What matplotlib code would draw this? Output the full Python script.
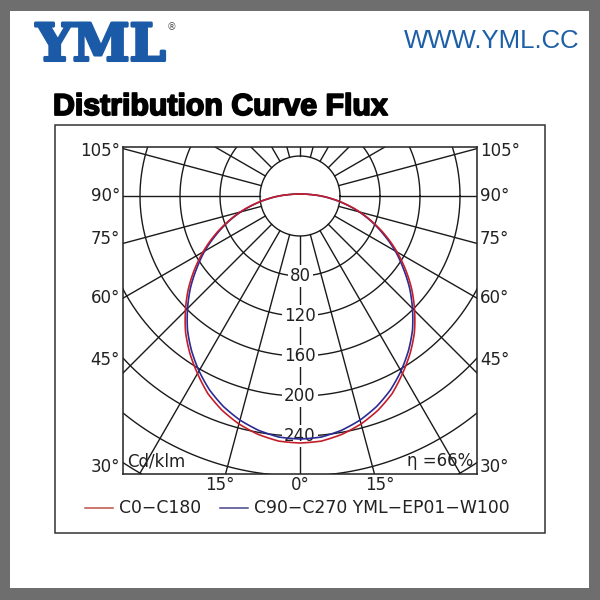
import numpy as np
import matplotlib
matplotlib.use("Agg")
import matplotlib.pyplot as plt
from matplotlib.patches import Rectangle
from matplotlib.lines import Line2D
import matplotlib.patheffects as pe

# ---------------- data (cd/klm) ----------------
angles = list(range(0, 181, 5))  # gamma angle, degrees from nadir
c0_c180 = [247, 246, 242, 236, 228, 218, 205, 192, 178, 162, 146, 129, 112, 95, 78,
           62, 46, 32, 21, 13, 9, 7, 5.5, 4.5, 4, 3.4, 3.1, 2.8, 2.6, 2.4, 2.3, 2.2,
           2.1, 2, 2, 2, 2]
c90_c270 = [243, 242, 238, 232, 224, 214, 202, 189, 175, 159, 143, 126, 110, 93, 77,
            61, 45.5, 31.5, 20.5, 13, 9, 7, 5.5, 4.5, 4, 3.4, 3.1, 2.8, 2.6, 2.4, 2.3,
            2.2, 2.1, 2, 2, 2, 2]
ring_values = [40, 80, 120, 160, 200, 240, 280, 320, 360, 400]
ring_labels = ["80", "120", "160", "200", "240"]
spoke_angles = list(range(0, 360, 15))
side_labels = ["105°", "90°", "75°", "60°", "45°", "30°"]
bottom_labels = ["15°", "0°", "15°"]
series_names = ["C0−C180", "C90−C270"]
model = "YML−EP01−W100"
unit = "Cd/klm"
efficiency = "η =66%"

W = H = 600
fig = plt.figure(figsize=(6, 6), dpi=100)
fig.patch.set_facecolor("#6e6e6e")

def fx(px):
    return px / W

def fy(py):
    return 1 - py / H

# white page
fig.patches.append(Rectangle((fx(10), fy(588)), fx(589) - fx(10), fy(11) - fy(588),
                             transform=fig.transFigure, facecolor="white",
                             edgecolor="none", zorder=0))
# outer frame
fig.patches.append(Rectangle((fx(55), fy(533)), fx(545) - fx(55), fy(125) - fy(533),
                             transform=fig.transFigure, facecolor="none",
                             edgecolor="#333333", lw=1.1, zorder=1))

# header
fig.text(fx(36), fy(47), "YML", family="DejaVu Serif", weight="bold", fontsize=37,
         color="#1b5aa6", va="center", ha="left",
         path_effects=[pe.withStroke(linewidth=2.2, foreground="#1b5aa6")])
fig.text(fx(172), fy(27), "®", family="DejaVu Sans", fontsize=7, color="#555555",
         va="center", ha="center")
fig.text(fx(580), fy(41), "WWW.YML.CC", family="Liberation Sans", fontsize=18.5,
         color="#1d5fa6", va="center", ha="right")
fig.text(fx(53), fy(107), "Distribution Curve Flux", family="Liberation Sans",
         weight="bold", fontsize=21.8, color="black", va="center", ha="left",
         path_effects=[pe.withStroke(linewidth=1.3, foreground="black")])

# chart axes: 1 data unit ~ 1 pixel, centre at (300,196)
ax = fig.add_axes([fx(123), fy(474), fx(477) - fx(123), fy(147) - fy(474)])
ax.set_xlim(-177, 177)
ax.set_ylim(-278, 49)
ax.set_xticks([])
ax.set_yticks([])
for s in ax.spines.values():
    s.set_linewidth(1.1)
    s.set_color("#222222")
ax.set_zorder(2)

grid_kw = dict(color="#1a1a1a", lw=1.0, zorder=1)
t = np.linspace(0, 2 * np.pi, 721)
for r in ring_values:
    ax.plot(r * np.cos(t), r * np.sin(t), **grid_kw)
for a in spoke_angles:
    th = np.radians(a)
    ax.plot([40 * np.sin(th), 600 * np.sin(th)], [-40 * np.cos(th), -600 * np.cos(th)],
            **grid_kw)

for lab in ring_labels:
    ax.text(0, -float(lab), lab, fontsize=12, ha="center", va="center", color="#222222",
            zorder=3, bbox=dict(facecolor="white", edgecolor="none", pad=1.5))

ax.text(-173, -265, unit, fontsize=12, ha="left", va="center", color="#222222", zorder=5)
ax.text(173, -265, efficiency, fontsize=12, ha="right", va="center", color="#222222",
        zorder=5)

# polar overlay for the intensity curves (same centre and scale)
R = 300
pax = fig.add_axes([fx(300 - R), fy(196 + R), 2 * R / W, 2 * R / H], projection="polar")
pax.set_theta_zero_location("S")
pax.set_ylim(0, R)
pax.set_axis_off()
pax.patch.set_alpha(0)
pax.set_zorder(3)

th = np.radians(np.array(angles, dtype=float))
# blue first so that red lies on top where the two coincide
for vals, col in zip([c90_c270, c0_c180], ["#2b2b96", "#c41e2a"]):
    r = np.array(vals, dtype=float)
    thetas = np.concatenate([-th[::-1], th[1:]])
    rs = np.concatenate([r[::-1], r[1:]])
    (ln,) = pax.plot(thetas, rs, color=col, lw=1.2)
    ln.get_path()._interpolation_steps = 40  # draw polar segments as smooth arcs

# angle labels outside the frame
side_y = [151, 196, 239, 298, 360, 467]
for lab, y in zip(side_labels, side_y):
    fig.text(fx(120), fy(y), lab, fontsize=12, ha="right", va="center", color="#222222")
    fig.text(fx(480), fy(y), lab, fontsize=12, ha="left", va="center", color="#222222")
for lab, x in zip(bottom_labels, [220, 300, 380]):
    fig.text(fx(x), fy(485), lab, fontsize=12, ha="center", va="center", color="#222222")

# legend
fig.add_artist(Line2D([fx(85), fx(113)], [fy(508), fy(508)], color="#c0504a", lw=1.1,
                      transform=fig.transFigure))
fig.text(fx(119), fy(508), series_names[0], fontsize=12.4, ha="left", va="center",
         color="#222222")
fig.add_artist(Line2D([fx(220), fx(248)], [fy(508), fy(508)], color="#45458a", lw=1.1,
                      transform=fig.transFigure))
fig.text(fx(254), fy(508), series_names[1] + " " + model, fontsize=12.4, ha="left",
         va="center", color="#222222")

fig.savefig("out.png", dpi=100, facecolor=fig.get_facecolor())
